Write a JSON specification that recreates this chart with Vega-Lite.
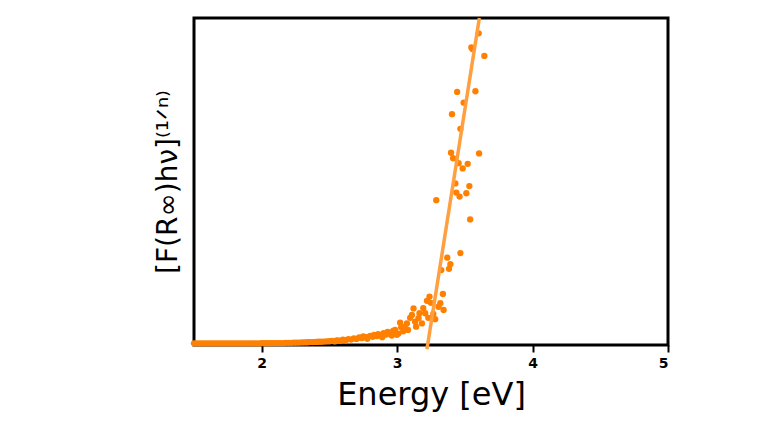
{
  "$schema": "https://vega.github.io/schema/vega-lite/v6.json",
  "width": 474,
  "height": 327,
  "autosize": {"type": "none"},
  "padding": {"left": 194, "top": 18, "right": 114, "bottom": 76},
  "background": "white",
  "config": {
    "view": {"stroke": "black", "strokeWidth": 3},
    "font": "DejaVu Sans"
  },
  "datasets": {
    "pts": [
      {"energy": 1.50, "value": 0.5}, {"energy": 1.52, "value": 0.5}, {"energy": 1.54, "value": 0.5}, {"energy": 1.56, "value": 0.5},
      {"energy": 1.58, "value": 0.5}, {"energy": 1.60, "value": 0.5}, {"energy": 1.62, "value": 0.5}, {"energy": 1.64, "value": 0.5},
      {"energy": 1.66, "value": 0.5}, {"energy": 1.68, "value": 0.5}, {"energy": 1.70, "value": 0.5}, {"energy": 1.72, "value": 0.5},
      {"energy": 1.74, "value": 0.5}, {"energy": 1.76, "value": 0.5}, {"energy": 1.78, "value": 0.5}, {"energy": 1.80, "value": 0.5},
      {"energy": 1.82, "value": 0.5}, {"energy": 1.84, "value": 0.5}, {"energy": 1.86, "value": 0.5}, {"energy": 1.88, "value": 0.5},
      {"energy": 1.90, "value": 0.5}, {"energy": 1.92, "value": 0.5}, {"energy": 1.94, "value": 0.5}, {"energy": 1.96, "value": 0.5},
      {"energy": 1.98, "value": 0.5}, {"energy": 2.00, "value": 0.55}, {"energy": 2.02, "value": 0.55}, {"energy": 2.04, "value": 0.55},
      {"energy": 2.06, "value": 0.55}, {"energy": 2.08, "value": 0.6}, {"energy": 2.10, "value": 0.6}, {"energy": 2.12, "value": 0.6},
      {"energy": 2.14, "value": 0.6}, {"energy": 2.16, "value": 0.6}, {"energy": 2.18, "value": 0.65}, {"energy": 2.20, "value": 0.65},
      {"energy": 2.22, "value": 0.65}, {"energy": 2.24, "value": 0.7}, {"energy": 2.26, "value": 0.7}, {"energy": 2.28, "value": 0.75},
      {"energy": 2.30, "value": 0.8}, {"energy": 2.32, "value": 0.8}, {"energy": 2.34, "value": 0.85}, {"energy": 2.36, "value": 0.9},
      {"energy": 2.38, "value": 0.9}, {"energy": 2.40, "value": 0.95}, {"energy": 2.42, "value": 1.0}, {"energy": 2.44, "value": 1.0},
      {"energy": 2.46, "value": 1.05}, {"energy": 2.48, "value": 1.1}, {"energy": 2.50, "value": 1.15}, {"energy": 2.52, "value": 1.25},
      {"energy": 2.54, "value": 1.1}, {"energy": 2.55, "value": 1.35},
      {"energy": 2.56, "value": 1.4}, {"energy": 2.58, "value": 1.3}, {"energy": 2.60, "value": 1.6}, {"energy": 2.62, "value": 1.45},
      {"energy": 2.64, "value": 1.8}, {"energy": 2.66, "value": 1.65}, {"energy": 2.68, "value": 2.0}, {"energy": 2.70, "value": 1.85},
      {"energy": 2.72, "value": 2.3}, {"energy": 2.74, "value": 2.1}, {"energy": 2.75, "value": 2.6}, {"energy": 2.77, "value": 2.4},
      {"energy": 2.78, "value": 1.9}, {"energy": 2.80, "value": 2.8}, {"energy": 2.82, "value": 2.5}, {"energy": 2.83, "value": 3.1},
      {"energy": 2.85, "value": 2.7}, {"energy": 2.86, "value": 3.3}, {"energy": 2.88, "value": 3.0}, {"energy": 2.89, "value": 2.4},
      {"energy": 2.90, "value": 3.6}, {"energy": 2.92, "value": 3.2}, {"energy": 2.93, "value": 4.0}, {"energy": 2.948, "value": 3.6},
      {"energy": 2.96, "value": 2.9}, {"energy": 2.97, "value": 4.3}, {"energy": 2.985, "value": 4.6}, {"energy": 2.998, "value": 3.1},
      {"energy": 3.01, "value": 3.5}, {"energy": 3.022, "value": 6.8}, {"energy": 3.03, "value": 5.4}, {"energy": 3.037, "value": 5.5},
      {"energy": 3.045, "value": 4.2}, {"energy": 3.059, "value": 5.1}, {"energy": 3.072, "value": 6.6}, {"energy": 3.08, "value": 4.6},
      {"energy": 3.096, "value": 8.3}, {"energy": 3.109, "value": 9.2}, {"energy": 3.121, "value": 11.2}, {"energy": 3.133, "value": 7.1},
      {"energy": 3.14, "value": 5.6}, {"energy": 3.158, "value": 8.2}, {"energy": 3.165, "value": 9.7}, {"energy": 3.183, "value": 6.6},
      {"energy": 3.193, "value": 11.3}, {"energy": 3.207, "value": 9.7}, {"energy": 3.220, "value": 13.5}, {"energy": 3.230, "value": 8.3},
      {"energy": 3.239, "value": 14.8}, {"energy": 3.249, "value": 12.9}, {"energy": 3.267, "value": 9.5}, {"energy": 3.281, "value": 7.9},
      {"energy": 3.306, "value": 11.7}, {"energy": 3.319, "value": 12.8}, {"energy": 3.338, "value": 15.6}, {"energy": 3.343, "value": 10.7},
      {"energy": 3.326, "value": 22.9}, {"energy": 3.383, "value": 23.3}, {"energy": 3.393, "value": 24.7}, {"energy": 3.370, "value": 26.7},
      {"energy": 3.467, "value": 28.1}, {"energy": 3.539, "value": 38.4}, {"energy": 3.289, "value": 44.3}, {"energy": 3.461, "value": 45.4},
      {"energy": 3.511, "value": 46.4}, {"energy": 3.437, "value": 46.6}, {"energy": 3.533, "value": 48.6}, {"energy": 3.430, "value": 49.4},
      {"energy": 3.484, "value": 54.0}, {"energy": 3.521, "value": 55.4}, {"energy": 3.454, "value": 55.6}, {"energy": 3.413, "value": 57.1},
      {"energy": 3.605, "value": 58.6}, {"energy": 3.398, "value": 58.8}, {"energy": 3.467, "value": 66.1}, {"energy": 3.405, "value": 70.6},
      {"energy": 3.491, "value": 74.1}, {"energy": 3.443, "value": 77.4}, {"energy": 3.578, "value": 77.6}, {"energy": 3.644, "value": 88.4},
      {"energy": 3.556, "value": 90.5}, {"energy": 3.548, "value": 91.0}, {"energy": 3.602, "value": 95.3}
    ],
    "fit": [
      {"energy": 3.22, "value": -1.3},
      {"energy": 3.607, "value": 100}
    ]
  },
  "layer": [
    {
      "data": {"name": "pts"},
      "mark": {"type": "circle", "size": 40, "color": "#ff8000", "opacity": 1},
      "encoding": {
        "x": {
          "field": "energy", "type": "quantitative",
          "scale": {"domain": [1.5, 5], "nice": false, "zero": false},
          "axis": {
            "title": "Energy [eV]", "values": [2, 3, 4, 5], "format": "d", "grid": false, "domain": false,
            "tickColor": "black", "tickWidth": 2, "tickSize": 7,
            "labelFontSize": 14, "labelFontWeight": "bold", "labelColor": "black", "labelPadding": 4,
            "titleFontSize": 32, "titleFontWeight": "normal", "titleColor": "black", "titlePadding": 9
          }
        },
        "y": {
          "field": "value", "type": "quantitative",
          "scale": {"domain": [0, 100], "nice": false},
          "axis": {
            "title": "[F(R∞)hν]⁽¹ᐟⁿ⁾", "labels": false, "ticks": false, "grid": false, "domain": false,
            "titleFontSize": 28, "titleFontWeight": "normal", "titleColor": "black", "titlePadding": 12
          }
        }
      }
    },
    {
      "data": {"name": "fit"},
      "mark": {"type": "line", "color": "#ff9f40", "strokeWidth": 3.5, "clip": false},
      "encoding": {
        "x": {"field": "energy", "type": "quantitative"},
        "y": {"field": "value", "type": "quantitative"}
      }
    }
  ]
}
